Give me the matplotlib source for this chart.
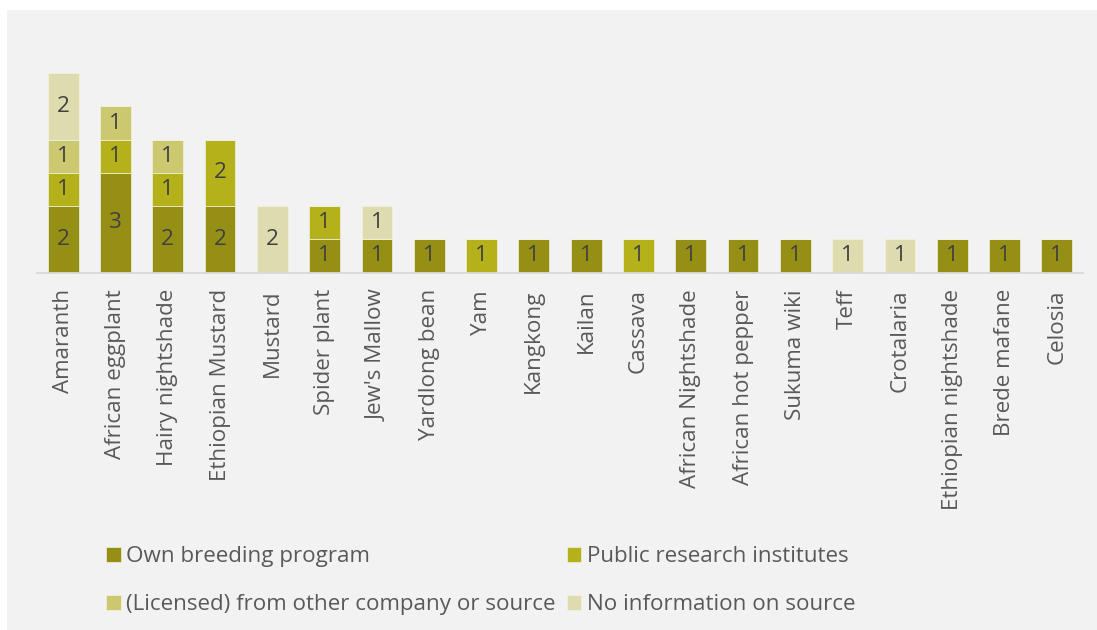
import matplotlib
matplotlib.use('Agg')
import matplotlib.pyplot as plt
import matplotlib.patches as mpatches
import numpy as np

plt.rcParams['font.family'] = ['Open Sans', 'DejaVu Sans']

crops = ['Amaranth', 'African eggplant', 'Hairy nightshade', 'Ethiopian Mustard',
         'Mustard', 'Spider plant', "Jew's Mallow", 'Yardlong bean', 'Yam',
         'Kangkong', 'Kailan', 'Cassava', 'African Nightshade', 'African hot pepper',
         'Sukuma wiki', 'Teff', 'Crotalaria', 'Ethiopian nightshade',
         'Brede mafane', 'Celosia']

own_breeding = [2, 3, 2, 2, 0, 1, 1, 1, 0, 1, 1, 0, 1, 1, 1, 0, 0, 1, 1, 1]
public_research = [1, 1, 1, 2, 0, 1, 0, 0, 1, 0, 0, 1, 0, 0, 0, 0, 0, 0, 0, 0]
licensed = [1, 1, 1, 0, 0, 0, 0, 0, 0, 0, 0, 0, 0, 0, 0, 0, 0, 0, 0, 0]
no_info = [2, 0, 0, 0, 2, 0, 1, 0, 0, 0, 0, 0, 0, 0, 0, 1, 1, 0, 0, 0]

series = [
    ('Own breeding program', own_breeding, '#958F16'),
    ('Public research institutes', public_research, '#B4B11B'),
    ('(Licensed) from other company or source', licensed, '#CBC86F'),
    ('No information on source', no_info, '#DEDBAF'),
]

FS = 16.1

fig = plt.figure(figsize=(10.97, 6.3), dpi=100)
fig.patch.set_facecolor('white')
# grey panel behind the chart
fig.patches.append(mpatches.Rectangle((7 / 1097, 0), 1 - 7 / 1097, 1 - 10 / 630,
                                      transform=fig.transFigure, facecolor='#F2F2F2',
                                      edgecolor='none', zorder=-10))

ax = fig.add_axes([37 / 1097, 1 - 272.5 / 630, 1046 / 1097, 232.5 / 630])
ax.set_facecolor('none')

x = np.arange(len(crops))
bottom = np.zeros(len(crops))
handles = []
for name, vals, col in series:
    vals = np.array(vals)
    bars = ax.bar(x, vals, width=0.59, bottom=bottom, color=col,
                  edgecolor='#F2F2E0', linewidth=0.5, label=name)
    ax.bar_label(bars, labels=[str(v) if v else '' for v in vals],
                 label_type='center', color='#404040', fontsize=FS)
    bottom += vals
    handles.append(bars)

ax.set_xlim(-0.5, len(crops) - 0.5)
ax.set_ylim(0, 7)
ax.set_xticks(x)
ax.set_xticklabels(crops, rotation=90, fontsize=FS, color='#595959')
ax.tick_params(axis='x', length=0, pad=12)
ax.set_yticks([])
for s in ['top', 'left', 'right']:
    ax.spines[s].set_visible(False)
ax.spines['bottom'].set_color('#D9D9D9')
ax.spines['bottom'].set_linewidth(1.3)

# legend fills column-wise, so order the entries to read row by row
order = [0, 2, 1, 3]
fig.legend(handles=[handles[i] for i in order], labels=[series[i][0] for i in order],
           ncol=2, loc='upper left', bbox_to_anchor=(86 / 1097, 1 - 526 / 630),
           frameon=False, fontsize=FS, labelcolor='#595959',
           handlelength=0.65, handleheight=0.65, handletextpad=0.25,
           columnspacing=0.5, labelspacing=1.2)

fig.savefig('out.png', dpi=100, facecolor='white')
